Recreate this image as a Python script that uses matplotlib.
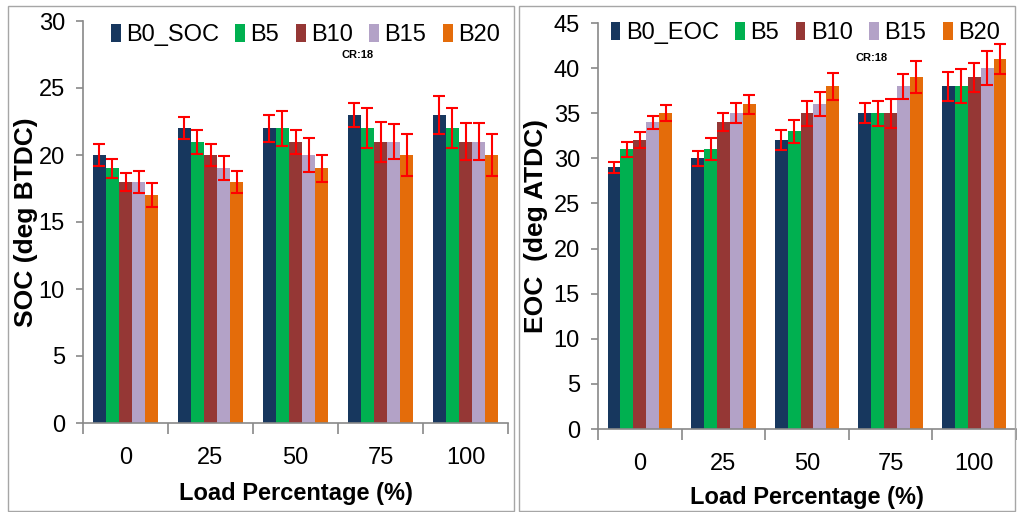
import matplotlib
matplotlib.use("Agg")
import matplotlib.pyplot as plt
from matplotlib.patches import Rectangle
import numpy as np

plt.rcParams['font.family'] = ['Liberation Sans', 'DejaVu Sans']

# data
loads = ['0', '25', '50', '75', '100']
series = ['B5', 'B10', 'B15', 'B20']
colors = ['#17375E', '#00B050', '#953735', '#B3A2C7', '#E46C0A']

soc = [
    [20, 22, 22, 23, 23],   # B0
    [19, 21, 22, 22, 22],   # B5
    [18, 20, 21, 21, 21],   # B10
    [18, 19, 20, 21, 21],   # B15
    [17, 18, 19, 20, 20],   # B20
]
soc_err = [
    [0.85, 0.8, 1.0, 0.9, 1.4],
    [0.7, 0.9, 1.3, 1.5, 1.5],
    [0.65, 0.8, 0.9, 1.5, 1.4],
    [0.8, 0.9, 1.3, 1.3, 1.4],
    [0.9, 0.8, 1.0, 1.6, 1.6],
]

eoc = [
    [29, 30, 32, 35, 38],
    [31, 31, 33, 35, 38],
    [32, 34, 35, 35, 39],
    [34, 35, 36, 38, 40],
    [35, 36, 38, 39, 41],
]
eoc_err = [
    [0.6, 0.8, 1.1, 1.1, 1.6],
    [0.8, 1.2, 1.3, 1.4, 1.9],
    [0.9, 1.0, 1.4, 1.6, 1.6],
    [0.7, 1.1, 1.3, 1.4, 1.9],
    [0.9, 1.05, 1.5, 1.8, 1.7],
]

W, H = 1018, 512
fig = plt.figure(figsize=(W / 100, H / 100), dpi=100)

# panel frames
for (x0, y0, x1, y1) in [(8, 6, 514, 511), (519, 6, 1015, 511)]:
    fig.patches.append(Rectangle((x0 / W, 1 - y1 / H), (x1 - x0) / W, (y1 - y0) / H,
                                 transform=fig.transFigure, fill=False,
                                 edgecolor='#A6A6A6', linewidth=1.0))


def panel(rect, vals, errs, first, ylabel, ymax, ystep, leg_x, leg_y, cr_xy,
          ylab_x, xlab_y):
    ax = fig.add_axes(rect)
    x = np.arange(len(loads))
    bw = 0.154
    for i in range(5):
        ax.bar(x + (i - 2) * bw, vals[i], bw, color=colors[i],
               label=([first] + series)[i], zorder=2)
        ax.errorbar(x + (i - 2) * bw, vals[i], yerr=errs[i], fmt='none',
                    ecolor='#FF0000', elinewidth=1.5, capsize=4, capthick=1.5, zorder=3)
    ax.set_xlim(-0.5, 4.5)
    ax.set_ylim(0, ymax)
    ax.set_yticks(np.arange(0, ymax + 1, ystep))
    ax.set_xticks(np.arange(-0.5, 5, 1))
    ax.set_xticklabels([])
    ax.set_xticks(x, minor=True)
    ax.set_xticklabels(loads, minor=True)
    ax.tick_params(axis='x', which='major', length=8, color='#898989', width=1.2)
    ax.tick_params(axis='x', which='minor', length=0, pad=17, labelsize=17)
    ax.tick_params(axis='y', length=5, color='#898989', width=1.2, pad=8, labelsize=17)
    for s in ['top', 'right']:
        ax.spines[s].set_visible(False)
    for s in ['left', 'bottom']:
        ax.spines[s].set_color('#898989')
        ax.spines[s].set_linewidth(1.2)
    ax.set_ylabel(ylabel, fontsize=19, fontweight='bold')
    ax.set_xlabel('Load Percentage (%)', fontsize=17, fontweight='bold')
    ax.xaxis.set_label_coords(0.5, xlab_y)
    ax.yaxis.set_label_coords(ylab_x, 0.5)
    ax.legend(loc='center left', bbox_to_anchor=(leg_x, leg_y), ncol=5, frameon=False,
              fontsize=17, handlelength=0.42, handleheight=0.8, handletextpad=0.22,
              columnspacing=0.7, borderaxespad=0, borderpad=0)
    ax.text(cr_xy[0], cr_xy[1], 'CR:18', transform=ax.transAxes, fontsize=8,
            fontweight='bold', ha='center', va='center')
    return ax


panel([83 / W, 1 - 423 / H, 425 / W, 402 / H], soc, soc_err, 'B0_SOC',
      'SOC (deg BTDC)', 30, 5, 0.065, 0.965, (0.646, 0.915), -0.105, -0.148)
panel([598 / W, 1 - 429 / H, 418 / W, 406 / H], eoc, eoc_err, 'B0_EOC',
      'EOC  (deg ATDC)', 45, 5, 0.03, 0.975, (0.654, 0.913), -0.12, -0.14)

plt.savefig('out.png', dpi=100)
